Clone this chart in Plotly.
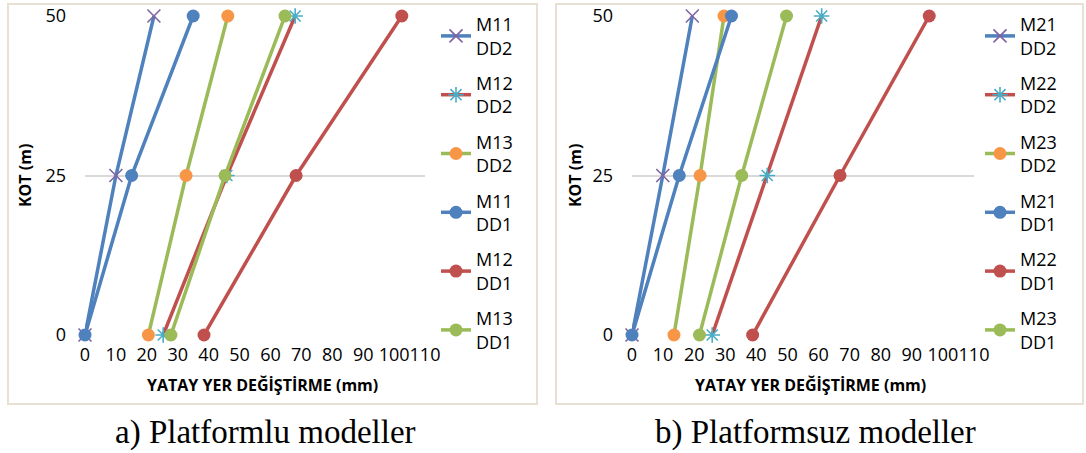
import plotly.graph_objects as go

W, H = 1086, 453

kot = [0, 25, 50]

# Panel a) Platformlu modeller
a_names = ["M11<br>DD2", "M12<br>DD2", "M13<br>DD2", "M11<br>DD1", "M12<br>DD1", "M13<br>DD1"]
a_M11_DD2 = [0, 10, 22.3]
a_M12_DD2 = [25.3, 45.9, 68]
a_M13_DD2 = [20.5, 32.7, 46.2]
a_M11_DD1 = [0, 15.1, 35]
a_M12_DD1 = [38.5, 68.3, 102.5]
a_M13_DD1 = [27.8, 45.3, 64.7]

# Panel b) Platformsuz modeller
b_names = ["M21<br>DD2", "M22<br>DD2", "M23<br>DD2", "M21<br>DD1", "M22<br>DD1", "M23<br>DD1"]
b_M21_DD2 = [0, 9.9, 19.4]
b_M22_DD2 = [25.8, 43.5, 61]
b_M23_DD2 = [13.5, 21.9, 29.6]
b_M21_DD1 = [0, 15.2, 32]
b_M22_DD1 = [38.8, 66.9, 95.6]
b_M23_DD1 = [21.7, 35.3, 49.7]

x_ticks = [0, 10, 20, 30, 40, 50, 60, 70, 80, 90, 100, 110]
y_ticks = [0, 25, 50]

BLUE, RED, GREEN = "#4f81bd", "#c0504d", "#9bbb59"
PURPLE, AQUA, ORANGE = "#8064a2", "#4bacc6", "#f79646"

styles = [
    (BLUE, dict(symbol="x-thin-open", size=13, color=PURPLE, line=dict(color=PURPLE, width=1.6))),
    (RED, dict(symbol="asterisk-open", size=13, color=AQUA, line=dict(color=AQUA, width=1.6))),
    (GREEN, dict(symbol="circle", size=13, color=ORANGE, line=dict(width=0))),
    (BLUE, dict(symbol="circle", size=13, color=BLUE, line=dict(width=0))),
    (RED, dict(symbol="circle", size=13, color=RED, line=dict(width=0))),
    (GREEN, dict(symbol="circle", size=13, color=GREEN, line=dict(width=0))),
]

FONT = "Open Sans"
fig = go.Figure()

a_series = [a_M11_DD2, a_M12_DD2, a_M13_DD2, a_M11_DD1, a_M12_DD1, a_M13_DD1]
b_series = [b_M21_DD2, b_M22_DD2, b_M23_DD2, b_M21_DD1, b_M22_DD1, b_M23_DD1]

for i, (name, xs) in enumerate(zip(a_names, a_series)):
    lc, mk = styles[i]
    fig.add_trace(go.Scatter(x=xs, y=kot, name=name, mode="lines+markers",
                             line=dict(color=lc, width=3.5), marker=mk,
                             xaxis="x", yaxis="y", legend="legend", cliponaxis=False,
                             legendgroup="a%d" % i))
for i, (name, xs) in enumerate(zip(b_names, b_series)):
    lc, mk = styles[i]
    fig.add_trace(go.Scatter(x=xs, y=kot, name=name, mode="lines+markers",
                             line=dict(color=lc, width=3.5), marker=mk,
                             xaxis="x2", yaxis="y2", legend="legend2", cliponaxis=False,
                             legendgroup="b%d" % i))

def px_x(p):
    return p / W

def px_y(p):
    return 1 - p / H

y_dom = [px_y(335), px_y(16)]
axis_common = dict(showline=False, zeroline=False, ticks="", showgrid=True, automargin=False,
                   tickfont=dict(family=FONT, size=18, color="#000000"))
xa = dict(axis_common, range=[0, 110], tickvals=x_ticks, gridcolor="rgba(0,0,0,0)",
          ticklabelstandoff=7, tickangle=0)
ya = dict(axis_common, range=[0, 50], tickvals=y_ticks, gridcolor="#d9d9d9", gridwidth=2,
          ticklabelstandoff=18)

fig.update_layout(
    width=W, height=H,
    margin=dict(l=0, r=0, t=0, b=0, autoexpand=False),
    paper_bgcolor="white", plot_bgcolor="white",
    showlegend=True,
    xaxis=dict(xa, domain=[px_x(85), px_x(425)], anchor="y"),
    yaxis=dict(ya, domain=y_dom, anchor="x"),
    xaxis2=dict(xa, domain=[px_x(632), px_x(974)], anchor="y2"),
    yaxis2=dict(ya, domain=y_dom, anchor="x2"),
    legend=dict(x=px_x(436), y=px_y(6), xanchor="left", yanchor="top",
                font=dict(family=FONT, size=18, color="#000000"),
                bgcolor="rgba(0,0,0,0)", tracegroupgap=9),
    legend2=dict(x=px_x(980), y=px_y(6), xanchor="left", yanchor="top",
                 font=dict(family=FONT, size=18, color="#000000"),
                 bgcolor="rgba(0,0,0,0)", tracegroupgap=9),
)

# Panel frames
for x0, x1 in [(8, 537), (556, 1083)]:
    fig.add_shape(type="rect", xref="paper", yref="paper",
                  x0=px_x(x0), x1=px_x(x1), y0=px_y(404), y1=px_y(4),
                  line=dict(color="#e6e1d3", width=2), layer="below")

# Axis titles
for cx in [262, 810]:
    fig.add_annotation(x=px_x(cx), y=px_y(385), xref="paper", yref="paper",
                       xanchor="center", yanchor="middle",
                       text="<b>YATAY YER DEĞİŞTİRME (mm)</b>", showarrow=False,
                       font=dict(family=FONT, size=16, color="#000000"))
for cx in [25, 575]:
    fig.add_annotation(x=px_x(cx), y=px_y(176), xref="paper", yref="paper",
                       xanchor="center", yanchor="middle",
                       text="<b>KOT (m)</b>", showarrow=False, textangle=-90,
                       font=dict(family=FONT, size=16, color="#000000"))

# Captions
for cx, txt in [(265, "a) Platformlu modeller"), (815, "b) Platformsuz modeller")]:
    fig.add_annotation(x=px_x(cx), y=px_y(432), xref="paper", yref="paper",
                       xanchor="center", yanchor="middle",
                       text=txt, showarrow=False,
                       font=dict(family="Liberation Serif", size=33, color="#000000"))

fig.write_html("out.html", config={"displayModeBar": False},
               post_script="document.body.style.margin='0';document.body.style.overflow='hidden';")
